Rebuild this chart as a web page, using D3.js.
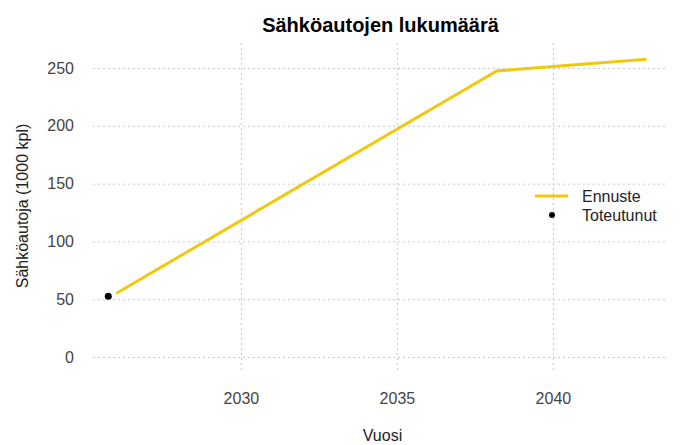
<!DOCTYPE html>
<html>
<head>
<meta charset="utf-8">
<script src="https://cdn.jsdelivr.net/npm/d3@7"></script>
<style>
  html, body { margin: 0; padding: 0; background: #fff; }
  svg { display: block; font-family: "Liberation Sans", Arial, sans-serif; }
  .tick text { fill: #444; font-size: 16px; }
  .grid line { stroke: #c8c8c8; stroke-width: 1; stroke-dasharray: 2 3; }
  .grid .domain { display: none; }
</style>
</head>
<body>
<svg id="chart" width="680" height="445"></svg>
<script>
// data
const ennusteVuodet = [2026, 2038.2, 2043];
const ennusteArvot = [55, 247.5, 257.5];
const toteutunutVuodet = [2025.75];
const toteutunutArvot = [52.5];
const xTicks = [2030, 2035, 2040];
const yTicks = [0, 50, 100, 150, 200, 250];
const sarjat = ['Ennuste', 'Toteutunut'];

const width = 680, height = 445;
const margin = { top: 42, right: 12, bottom: 75, left: 93 };
const innerW = width - margin.left - margin.right;
const innerH = height - margin.top - margin.bottom;
const keltainen = '#f2c80f';

const svg = d3.select('#chart');
const g = svg.append('g').attr('transform', `translate(${margin.left},${margin.top})`);

const x = d3.scaleLinear().domain([2025.26, 2043.69]).range([0, innerW]);
const y = d3.scaleLinear().domain([-11.2, 272.5]).range([innerH, 0]);

// grid
g.append('g').attr('class', 'grid')
  .call(d3.axisLeft(y).tickValues(yTicks).tickSize(-innerW).tickFormat(''));
g.append('g').attr('class', 'grid')
  .attr('transform', `translate(0,${innerH})`)
  .call(d3.axisBottom(x).tickValues(xTicks).tickSize(innerH).tickFormat(''))
  .selectAll('line').attr('y2', -innerH);

// axes (labels only)
const yAxis = g.append('g')
  .call(d3.axisLeft(y).tickValues(yTicks).tickSize(0).tickPadding(19));
yAxis.select('.domain').remove();
yAxis.selectAll('text').style('font-family', 'inherit');

const xAxis = g.append('g')
  .attr('transform', `translate(0,${innerH})`)
  .call(d3.axisBottom(x).tickValues(xTicks).tickFormat(d3.format('d')).tickSize(0).tickPadding(23));
xAxis.select('.domain').remove();
xAxis.selectAll('text').style('font-family', 'inherit');

// forecast line
const line = d3.line().x(d => x(d[0])).y(d => y(d[1]));
g.append('path')
  .datum(d3.zip(ennusteVuodet, ennusteArvot))
  .attr('fill', 'none')
  .attr('stroke', keltainen)
  .attr('stroke-width', 3)
  .attr('d', line);

// realised
g.selectAll('circle.toteutunut')
  .data(d3.zip(toteutunutVuodet, toteutunutArvot))
  .enter().append('circle')
  .attr('class', 'toteutunut')
  .attr('cx', d => x(d[0]))
  .attr('cy', d => y(d[1]))
  .attr('r', 3.5)
  .attr('fill', '#000');

// titles
svg.append('text')
  .attr('x', margin.left + innerW / 2).attr('y', 32)
  .attr('text-anchor', 'middle')
  .style('font-size', '20px').style('font-weight', 'bold').attr('fill', '#000')
  .text('Sähköautojen lukumäärä');

svg.append('text')
  .attr('x', margin.left + innerW / 2 + 2).attr('y', 441)
  .attr('text-anchor', 'middle')
  .style('font-size', '16px').attr('fill', '#222')
  .text('Vuosi');

svg.append('text')
  .attr('transform', `translate(28,${margin.top + innerH / 2}) rotate(-90)`)
  .attr('text-anchor', 'middle')
  .style('font-size', '16px').attr('fill', '#222')
  .text('Sähköautoja (1000 kpl)');

// legend
const legend = svg.append('g').attr('transform', 'translate(535,196)');
const rivit = legend.selectAll('g').data(sarjat).enter().append('g')
  .attr('transform', (d, i) => `translate(0,${i * 19})`);
rivit.filter(d => d === 'Ennuste').append('line')
  .attr('x1', 0).attr('x2', 33)
  .attr('stroke', keltainen).attr('stroke-width', 3);
rivit.filter(d => d === 'Toteutunut').append('circle')
  .attr('cx', 17).attr('r', 3).attr('fill', '#000');
rivit.append('text')
  .attr('x', 47).attr('dy', '0.35em')
  .style('font-size', '16px').attr('fill', '#222')
  .text(d => d);
</script>
</body>
</html>
